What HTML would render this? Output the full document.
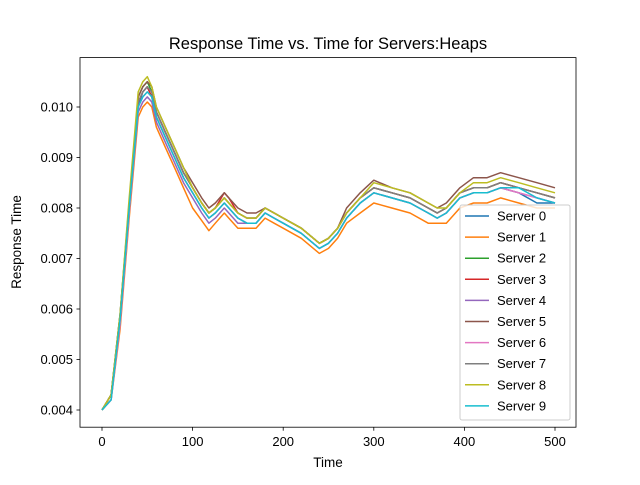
<!DOCTYPE html>
<html><head><meta charset="utf-8"><style>
body{margin:0;background:#fff;}
svg{font-family:"Liberation Sans","DejaVu Sans",sans-serif;}
</style></head><body>
<svg id="c" width="640" height="480">
<rect width="640" height="480" fill="#fff"/>
<text x="328" y="49" text-anchor="middle" font-size="16.5">Response Time vs. Time for Servers:Heaps</text>
<g id="plot"></g>
<rect x="80" y="57.6" width="496" height="369.6" fill="none" stroke="#000" stroke-width="0.8"/>
<g id="ticks"></g>
<text x="328" y="467" text-anchor="middle" font-size="13.5">Time</text>
<text transform="translate(21,242) rotate(-90)" text-anchor="middle" font-size="13.5">Response Time</text>
<g id="legend"></g>
</svg>
<script>
const T=[0,10,20,30,40,45,50,55,60,70,80,90,100,110,118,125,135,140,150,160,170,180,190,200,220,240,250,260,270,285,300,320,340,360,370,380,395,410,425,440,460,480,500];
const s0=[0.0040,0.0043,0.0058,0.0080,0.0100,0.0103,0.0104,0.0102,0.0098,0.0094,0.0090,0.0086,0.0083,0.0080,0.0078,0.0079,0.0081,0.0080,0.0078,0.0077,0.0077,0.0079,0.0078,0.0077,0.0075,0.0072,0.0073,0.0075,0.0078,0.0081,0.0083,0.0082,0.0081,0.0079,0.0078,0.0079,0.0082,0.0083,0.0083,0.0084,0.0083,0.0081,0.0081];
const s1=[0.0040,0.0042,0.0056,0.0078,0.0098,0.0100,0.0101,0.0100,0.0096,0.0092,0.0088,0.0084,0.0080,0.00775,0.00755,0.0077,0.0079,0.0078,0.0076,0.0076,0.0076,0.0078,0.0077,0.0076,0.0074,0.0071,0.0072,0.0074,0.0077,0.0079,0.0081,0.0080,0.0079,0.0077,0.0077,0.0077,0.0080,0.0081,0.0081,0.0082,0.0081,0.0080,0.0080];
const s2=[0.0040,0.0043,0.0059,0.0081,0.0102,0.0104,0.0105,0.0103,0.0099,0.0095,0.0091,0.0087,0.0084,0.0081,0.0079,0.0080,0.0082,0.0081,0.0079,0.0078,0.0078,0.0080,0.0079,0.0078,0.0076,0.0073,0.0074,0.0076,0.0079,0.0082,0.0084,0.0083,0.0082,0.0080,0.0079,0.0080,0.0083,0.0084,0.0084,0.0085,0.0084,0.0083,0.0082];
const s3=[0.0040,0.0043,0.0058,0.0080,0.0101,0.0103,0.0104,0.0102,0.0099,0.0095,0.0091,0.0087,0.0084,0.0081,0.0079,0.0080,0.0083,0.0082,0.0079,0.0078,0.0078,0.0080,0.0079,0.0078,0.0076,0.0073,0.0074,0.0076,0.0079,0.0082,0.0084,0.0083,0.0082,0.0080,0.0079,0.0080,0.0083,0.0084,0.0084,0.0085,0.0084,0.0083,0.0082];
const s4=[0.0040,0.0042,0.0057,0.0079,0.0099,0.0101,0.0102,0.0101,0.0097,0.0093,0.0089,0.0085,0.0082,0.0079,0.0077,0.0078,0.0080,0.0079,0.0077,0.0077,0.0077,0.0079,0.0078,0.0077,0.0075,0.0072,0.0073,0.0075,0.0078,0.0081,0.0083,0.0082,0.0081,0.0079,0.0078,0.0079,0.0082,0.0083,0.0083,0.0084,0.0083,0.0082,0.0081];
const s5=[0.0040,0.0043,0.0059,0.0081,0.0102,0.0104,0.0105,0.0104,0.0100,0.0096,0.0092,0.0088,0.0085,0.0082,0.0080,0.0081,0.0083,0.0082,0.0080,0.0079,0.0079,0.0080,0.0079,0.0078,0.0076,0.0073,0.0074,0.0076,0.0080,0.0083,0.00855,0.0084,0.0083,0.0081,0.0080,0.0081,0.0084,0.0086,0.0086,0.0087,0.0086,0.0085,0.0084];
const s6=[0.0040,0.0042,0.0057,0.0079,0.0100,0.0102,0.0103,0.0102,0.0098,0.0094,0.0090,0.0086,0.0083,0.0080,0.0078,0.0079,0.0081,0.0080,0.0078,0.0077,0.0077,0.0079,0.0078,0.0077,0.0075,0.0072,0.0073,0.0075,0.0078,0.0081,0.0083,0.0082,0.0081,0.0079,0.0078,0.0079,0.0082,0.0083,0.0083,0.0084,0.0083,0.0082,0.0081];
const s7=[0.0040,0.0043,0.0058,0.0080,0.0101,0.0103,0.0104,0.0103,0.0099,0.0095,0.0091,0.0087,0.0084,0.0081,0.0079,0.0080,0.0082,0.0081,0.0079,0.0078,0.0078,0.0080,0.0079,0.0078,0.0076,0.0073,0.0074,0.0076,0.0079,0.0082,0.0084,0.0083,0.0082,0.0080,0.0079,0.0080,0.0083,0.0084,0.0084,0.0085,0.0084,0.0083,0.0082];
const s8=[0.0040,0.0043,0.0059,0.0082,0.0103,0.0105,0.0106,0.0104,0.0100,0.0096,0.0092,0.0088,0.0084,0.0081,0.0079,0.0080,0.0082,0.0081,0.0079,0.0078,0.0078,0.0080,0.0079,0.0078,0.0076,0.0073,0.0074,0.0076,0.0079,0.0082,0.0085,0.0084,0.0083,0.0081,0.0080,0.0080,0.0083,0.0085,0.0085,0.0086,0.0085,0.0084,0.0083];
const s9=[0.0040,0.0042,0.0058,0.0080,0.0100,0.0102,0.0103,0.0102,0.0098,0.0094,0.0090,0.0086,0.0083,0.0080,0.0078,0.0079,0.0081,0.0080,0.0078,0.0077,0.0077,0.0079,0.0078,0.0077,0.0075,0.0072,0.0073,0.0075,0.0078,0.0081,0.0083,0.0082,0.0081,0.0079,0.0078,0.0079,0.0082,0.0083,0.0083,0.0084,0.0084,0.0082,0.0081];
const series=[s0,s1,s2,s3,s4,s5,s6,s7,s8,s9];
const names=["Server 0","Server 1","Server 2","Server 3","Server 4","Server 5","Server 6","Server 7","Server 8","Server 9"];
const colors=["#1f77b4","#ff7f0e","#2ca02c","#d62728","#9467bd","#8c564b","#e377c2","#7f7f7f","#bcbd22","#17becf"];
const xTicks=[0,100,200,300,400,500];
const yTicks=[0.004,0.005,0.006,0.007,0.008,0.009,0.010];
const NS="http://www.w3.org/2000/svg";
const X=v=>102+v*(555-102)/500;
const Y=v=>410-(v-0.004)*50500;
const plot=document.getElementById('plot');
series.forEach((s,i)=>{
  const p=document.createElementNS(NS,'path');
  p.setAttribute('d',s.map((v,j)=>(j?'L':'M')+X(T[j]).toFixed(1)+','+Y(v).toFixed(1)).join(''));
  p.setAttribute('fill','none');p.setAttribute('stroke',colors[i]);p.setAttribute('stroke-width','1.5');
  p.setAttribute('stroke-linejoin','round');
  
  
  plot.appendChild(p);
});
const tk=document.getElementById('ticks');
xTicks.forEach(v=>{
  const g=document.createElementNS(NS,'g');
  
  
  g.innerHTML=`<line x1="${X(v)}" x2="${X(v)}" y1="427.2" y2="430.7" stroke="#000" stroke-width="0.8"/><text x="${X(v)}" y="446" text-anchor="middle" font-size="13">${v}</text>`;
  tk.appendChild(g);
});
yTicks.forEach(v=>{
  const g=document.createElementNS(NS,'g');
  
  
  g.innerHTML=`<line x1="76.5" x2="80" y1="${Y(v)}" y2="${Y(v)}" stroke="#000" stroke-width="0.8"/><text x="73" y="${Y(v)+4.5}" text-anchor="end" font-size="13">${v.toFixed(3)}</text>`;
  tk.appendChild(g);
});
const lg=document.getElementById('legend');
lg.innerHTML='<rect x="460" y="205" width="110" height="215" rx="2" fill="#fff" fill-opacity="0.8" stroke="#ccc"/>';
names.forEach((n,i)=>{
  const g=document.createElementNS(NS,'g');
  
  
  const y=216+i*21.1;
  g.innerHTML=`<line x1="465" x2="489" y1="${y}" y2="${y}" stroke="${colors[i]}" stroke-width="1.5"/><text x="497" y="${y+4.5}" font-size="13">${n}</text>`;
  lg.appendChild(g);
});
</script>
</body></html>
